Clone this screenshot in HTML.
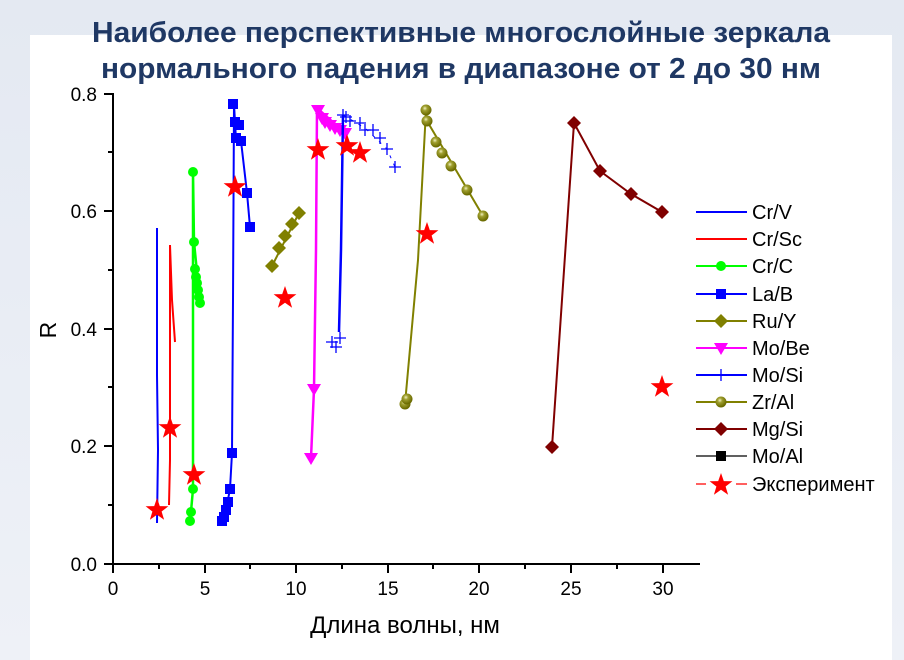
<!DOCTYPE html>
<html><head><meta charset="utf-8"><style>
html,body{margin:0;padding:0;}
body{width:904px;height:660px;overflow:hidden;background:linear-gradient(#e4e9f2,#eef1f7);font-family:"Liberation Sans",sans-serif;}
svg{display:block;}
</style></head><body>
<svg width="904" height="660" viewBox="0 0 904 660" xmlns="http://www.w3.org/2000/svg" font-family="Liberation Sans, sans-serif">
<defs>
<radialGradient id="sph" cx="0.4" cy="0.35" r="0.6"><stop offset="0" stop-color="#f0f0c0"/><stop offset="0.35" stop-color="#a0a030"/><stop offset="1" stop-color="#6b6b00"/></radialGradient>
<path id="star" d="M0,-12 L2.8,-3.9 L11.4,-3.7 L4.6,1.5 L7.1,9.7 L0,4.8 L-7.1,9.7 L-4.6,1.5 L-11.4,-3.7 L-2.8,-3.9Z" fill="#ff0000"/>
<rect id="sq" x="-5" y="-5" width="10" height="10" fill="#0000ff"/>
<path id="dia" d="M0,-7 L7,0 L0,7 L-7,0Z"/>
<path id="tri" d="M-7,-5 L7,-5 L0,7Z" fill="#ff00ff"/>
<path id="plus" d="M-6,0 H6 M0,-6 V6" stroke="#0000ff" stroke-width="1.3" fill="none"/>
<circle id="gc" r="5" fill="#00ff00"/>
<circle id="zc" r="5.5" fill="url(#sph)"/>
</defs>
<rect x="30" y="35" width="862" height="625" fill="#ffffff"/>
<g fill="#1f3864" font-weight="bold" font-size="29" text-anchor="middle">
<text x="461" y="42" textLength="738" lengthAdjust="spacingAndGlyphs">Наиболее перспективные многослойные зеркала</text>
<text x="461" y="78" textLength="720" lengthAdjust="spacingAndGlyphs">нормального падения в диапазоне от 2 до 30 нм</text>
</g>
<!-- axes -->
<g stroke="#000" stroke-width="2" fill="none">
<path d="M113,93 V564 H700"/>
<path d="M104,94 H113 M104,211 H113 M104,329 H113 M104,446 H113 M104,564 H113"/>
<path d="M108,152 H113 M108,270 H113 M108,387 H113 M108,505 H113"/>
<path d="M113,564 V573 M205,564 V573 M296,564 V573 M388,564 V573 M479,564 V573 M571,564 V573 M663,564 V573"/>
<path d="M159,564 V569 M250,564 V569 M342,564 V569 M433,564 V569 M525,564 V569 M617,564 V569"/>
</g>
<g font-size="19" fill="#000" text-anchor="end">
<text x="97" y="101">0.8</text><text x="97" y="218">0.6</text><text x="97" y="336">0.4</text><text x="97" y="453">0.2</text><text x="97" y="571">0.0</text>
</g>
<g font-size="19" fill="#000" text-anchor="middle">
<text x="113" y="595">0</text><text x="205" y="595">5</text><text x="296" y="595">10</text><text x="388" y="595">15</text><text x="479" y="595">20</text><text x="571" y="595">25</text><text x="663" y="595">30</text>
</g>
<text x="405" y="633" font-size="24" text-anchor="middle" fill="#000">Длина волны, нм</text>
<text transform="translate(56,330) rotate(-90)" font-size="23" text-anchor="middle" fill="#000">R</text>

<!-- Cr/V -->
<path d="M157,228 L157,375 L158,450 L157,523" stroke="#0000ff" stroke-width="2" fill="none"/>
<!-- Cr/Sc -->
<path d="M175,342 L172,300 L170,245 L170,460 L169,505" stroke="#ff0000" stroke-width="2" fill="none"/>
<!-- Cr/C -->
<path d="M200,303 L194,242 L193,172 L193,489 L190,523" stroke="#00ff00" stroke-width="2.5" fill="none"/>
<g><use href="#gc" x="193" y="172"/><use href="#gc" x="194" y="242"/><use href="#gc" x="195" y="269"/><use href="#gc" x="196" y="277"/><use href="#gc" x="197" y="283"/><use href="#gc" x="198" y="290"/><use href="#gc" x="199" y="297"/><use href="#gc" x="200" y="303"/><use href="#gc" x="193" y="489"/><use href="#gc" x="191" y="512"/><use href="#gc" x="190" y="521"/></g>
<!-- La/B -->
<path d="M222,521 L226,510 L230,489 L232,453 L233,300 L234,104 L236,140 L241,141 L247,193 L250,227" stroke="#0000ff" stroke-width="2" fill="none"/>
<g><use href="#sq" x="233" y="104"/><use href="#sq" x="235" y="122"/><use href="#sq" x="239" y="125"/><use href="#sq" x="236" y="138"/><use href="#sq" x="241" y="141"/><use href="#sq" x="247" y="193"/><use href="#sq" x="250" y="227"/><use href="#sq" x="232" y="453"/><use href="#sq" x="230" y="489"/><use href="#sq" x="228" y="502"/><use href="#sq" x="226" y="510"/><use href="#sq" x="224" y="517"/><use href="#sq" x="222" y="521"/></g>
<!-- Ru/Y -->
<path d="M272,266 L299,213" stroke="#808000" stroke-width="2"/>
<g fill="#808000"><use href="#dia" x="272" y="266"/><use href="#dia" x="279" y="248"/><use href="#dia" x="285" y="236"/><use href="#dia" x="292" y="224"/><use href="#dia" x="299" y="213"/></g>
<!-- Mo/Be -->
<path d="M311,458 L314,389 L316,250 L317,108 L345,133" stroke="#ff00ff" stroke-width="2.5" fill="none"/>
<g><use href="#tri" x="311" y="458"/><use href="#tri" x="314" y="389"/><use href="#tri" x="318" y="110"/><use href="#tri" x="322" y="118"/><use href="#tri" x="325" y="122"/><use href="#tri" x="330" y="125"/><use href="#tri" x="335" y="128"/><use href="#tri" x="340" y="130"/><use href="#tri" x="345" y="133"/></g>
<!-- Mo/Si -->
<path d="M339,332 L341,250 L343,115" stroke="#0000ff" stroke-width="2.5" fill="none"/>
<path d="M343,115 L365,128 L387,149 L395,167" stroke="#0000ff" stroke-width="1" stroke-dasharray="3,6" fill="none"/>
<g><use href="#plus" x="343" y="115"/><use href="#plus" x="346" y="117"/><use href="#plus" x="350" y="121"/><use href="#plus" x="360" y="123"/><use href="#plus" x="365" y="130"/><use href="#plus" x="373" y="130"/><use href="#plus" x="380" y="138"/><use href="#plus" x="387" y="149"/><use href="#plus" x="395" y="167"/><use href="#plus" x="332" y="342"/><use href="#plus" x="336" y="347"/><use href="#plus" x="340" y="338"/></g>
<!-- Zr/Al -->
<path d="M405,404 L418,260 L426,110 L427,121 L483,216" stroke="#808000" stroke-width="2" fill="none"/>
<g><use href="#zc" x="405" y="404"/><use href="#zc" x="407" y="399"/><use href="#zc" x="426" y="110"/><use href="#zc" x="427" y="121"/><use href="#zc" x="436" y="142"/><use href="#zc" x="442" y="153"/><use href="#zc" x="451" y="166"/><use href="#zc" x="467" y="190"/><use href="#zc" x="483" y="216"/></g>
<!-- Mg/Si -->
<path d="M552,447 L574,123 L600,171 L631,194 L662,212" stroke="#800000" stroke-width="2" fill="none"/>
<g fill="#800000"><use href="#dia" x="552" y="447"/><use href="#dia" x="574" y="123"/><use href="#dia" x="600" y="171"/><use href="#dia" x="631" y="194"/><use href="#dia" x="662" y="212"/></g>
<!-- Experiment -->
<g><use href="#star" x="157" y="510"/><use href="#star" x="170" y="428"/><use href="#star" x="194" y="475"/><use href="#star" x="235" y="187"/><use href="#star" x="285" y="298"/><use href="#star" x="318" y="150"/><use href="#star" x="347" y="146"/><use href="#star" x="360" y="153"/><use href="#star" x="427" y="234"/><use href="#star" x="662" y="387"/></g>

<!-- Legend -->
<g font-size="20" fill="#000">
<path d="M696,212 H747" stroke="#0000ff" stroke-width="2"/><text x="752" y="219">Cr/V</text>
<path d="M696,239 H747" stroke="#ff0000" stroke-width="2"/><text x="752" y="246">Cr/Sc</text>
<path d="M696,266 H747" stroke="#00ff00" stroke-width="2"/><use href="#gc" x="721" y="266"/><text x="752" y="273">Cr/C</text>
<path d="M696,294 H747" stroke="#0000ff" stroke-width="2"/><use href="#sq" x="721" y="294"/><text x="752" y="301">La/B</text>
<path d="M696,321 H747" stroke="#808000" stroke-width="2"/><use href="#dia" x="721" y="321" fill="#808000"/><text x="752" y="328">Ru/Y</text>
<path d="M696,348 H747" stroke="#ff00ff" stroke-width="2"/><use href="#tri" x="721" y="348"/><text x="752" y="355">Mo/Be</text>
<path d="M696,375 H747" stroke="#0000ff" stroke-width="2"/><use href="#plus" x="721" y="375"/><text x="752" y="382">Mo/Si</text>
<path d="M696,402 H747" stroke="#808000" stroke-width="2"/><use href="#zc" x="721" y="402"/><text x="752" y="409">Zr/Al</text>
<path d="M696,429 H747" stroke="#800000" stroke-width="2"/><use href="#dia" x="721" y="429" fill="#800000"/><text x="752" y="436">Mg/Si</text>
<path d="M696,456 H747" stroke="#000" stroke-width="1.3"/><rect x="716" y="451" width="10" height="10" fill="#000"/><text x="752" y="463">Mo/Al</text>
<path d="M696,484 H706 M736,484 H747" stroke="#ff0000" stroke-width="1.3"/><use href="#star" x="721" y="485"/><text x="752" y="491">Эксперимент</text>
</g>
</svg>
</body></html>
